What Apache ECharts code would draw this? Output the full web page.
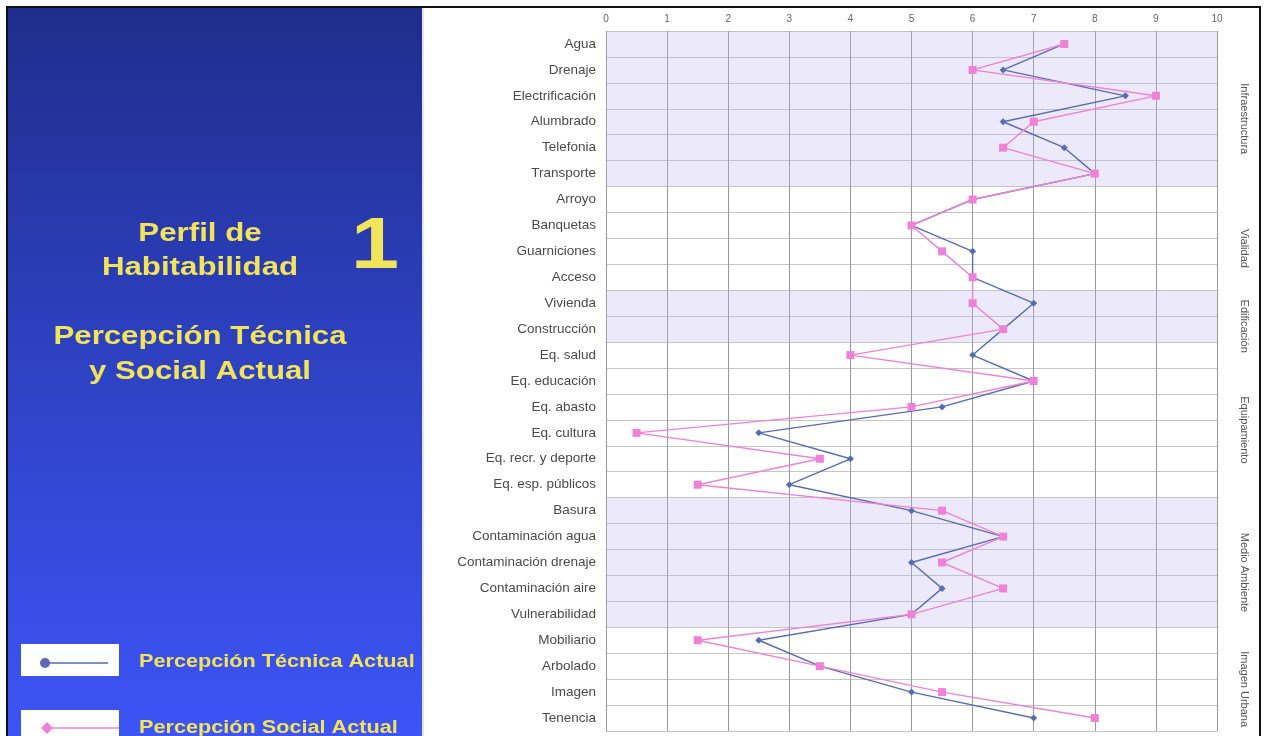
<!DOCTYPE html>
<html>
<head>
<meta charset="utf-8">
<script src="https://cdn.jsdelivr.net/npm/echarts@6/dist/echarts.min.js"></script>
<style>
  html, body { margin: 0; padding: 0; background: #fff; }
  #chart { width: 1267px; height: 736px; }
</style>
</head>
<body>
<div id="chart"></div>
<script>
// rows of the profile, top to bottom
const categories = [
  'Agua', 'Drenaje', 'Electrificación', 'Alumbrado', 'Telefonia', 'Transporte',
  'Arroyo', 'Banquetas', 'Guarniciones', 'Acceso',
  'Vivienda', 'Construcción',
  'Eq. salud', 'Eq. educación', 'Eq. abasto', 'Eq. cultura', 'Eq. recr. y deporte', 'Eq. esp. públicos',
  'Basura', 'Contaminación agua', 'Contaminación drenaje', 'Contaminación aire', 'Vulnerabilidad',
  'Mobiliario', 'Arbolado', 'Imagen', 'Tenencia'
];
const tecnica = [7.5, 6.5, 8.5, 6.5, 7.5, 8, 6, 5, 6, 6, 7, 6.5, 6, 7, 5.5, 2.5, 4, 3, 5, 6.5, 5, 5.5, 5, 2.5, 3.5, 5, 7];
const social  = [7.5, 6, 9, 7, 6.5, 8, 6, 5, 5.5, 6, 6, 6.5, 4, 7, 5, 0.5, 3.5, 1.5, 5.5, 6.5, 5.5, 6.5, 5, 1.5, 3.5, 5.5, 8];

const groupNames  = ['Infraestructura', 'Vialidad', 'Edificación', 'Equipamiento', 'Medio Ambiente', 'Imagen Urbana'];
const groupSizes  = [6, 4, 2, 6, 5, 4];
const groupShaded = [true, false, true, false, true, false];

const seriesNames = ['Percepción Técnica Actual', 'Percepción Social Actual'];
const xTicks = [0, 10, 1]; // min, max, interval

const BLUE = '#5a6bb5';
const PINK = '#ee82d6';
const YELLOW = '#f2e45a';
const FONT = '"Liberation Sans", Arial';

// band value per row (full width where the group is shaded)
const bandData = [];
groupSizes.forEach((n, g) => {
  for (let i = 0; i < n; i++) bandData.push(groupShaded[g] ? xTicks[1] : '-');
});

const chart = echarts.init(document.getElementById('chart'));

// the slide text is stretched sideways, hence the scaleX
function slideText(text, x, y, size, align, sx) {
  return {
    type: 'text', z: 5, x: x, y: y, scaleX: sx,
    style: { text: text, fill: YELLOW, font: 'bold ' + size + 'px ' + FONT, align: align, verticalAlign: 'middle' }
  };
}

const panel = [
  {
    type: 'rect', z: 0,
    shape: { x: 0, y: 0, width: 1267, height: 736 },
    style: { fill: '#fff' }
  },
  {
    type: 'rect', z: 1,
    shape: { x: 8, y: 8, width: 414, height: 728 },
    style: {
      fill: {
        type: 'linear', x: 0, y: 0, x2: 0, y2: 1,
        colorStops: [
          { offset: 0, color: '#1f2d8c' },
          { offset: 0.5, color: '#2e42c4' },
          { offset: 1, color: '#3d54f6' }
        ]
      }
    }
  },
  // frame
  { type: 'rect', z: 50, shape: { x: 6, y: 6, width: 1255, height: 2 }, style: { fill: '#111' } },
  { type: 'rect', z: 50, shape: { x: 6, y: 6, width: 2, height: 730 }, style: { fill: '#111' } },
  { type: 'rect', z: 50, shape: { x: 1259, y: 6, width: 2, height: 730 }, style: { fill: '#111' } },
  { type: 'rect', z: 2, shape: { x: 422, y: 8, width: 2, height: 728 }, style: { fill: '#e4e6ee' } },
  // titles
  slideText('Perfil de', 200, 234, 25, 'center', 1.25),
  slideText('Habitabilidad', 200, 268, 25, 'center', 1.25),
  slideText('1', 375, 248, 72, 'center', 1.2),
  slideText('Percepción Técnica', 200, 337, 26, 'center', 1.2),
  slideText('y Social Actual', 200, 372, 26, 'center', 1.2),
  // legend
  { type: 'rect', z: 5, shape: { x: 21, y: 644, width: 98, height: 32 }, style: { fill: '#fff' } },
  { type: 'line', z: 6, shape: { x1: 45, y1: 663, x2: 108, y2: 663 }, style: { stroke: BLUE, lineWidth: 1.5 } },
  { type: 'circle', z: 7, shape: { cx: 45, cy: 663, r: 5 }, style: { fill: BLUE } },
  slideText(seriesNames[0], 139, 662, 19, 'left', 1.14),
  { type: 'rect', z: 5, shape: { x: 21, y: 710, width: 98, height: 32 }, style: { fill: '#fff' } },
  { type: 'line', z: 6, shape: { x1: 47, y1: 728, x2: 119, y2: 728 }, style: { stroke: PINK, lineWidth: 1.5 } },
  { type: 'polygon', z: 7, shape: { points: [[47, 722], [53, 728], [47, 734], [41, 728]] }, style: { fill: PINK } },
  slideText(seriesNames[1], 139, 728, 19, 'left', 1.14)
];

chart.setOption({
  animation: false,
  grid: { left: 606, right: 50, top: 31, bottom: 5 },
  xAxis: {
    type: 'value', position: 'top',
    min: xTicks[0], max: xTicks[1], interval: xTicks[2],
    axisLine: { show: false }, axisTick: { show: false },
    axisLabel: { fontSize: 10, color: '#666', margin: 7, fontFamily: 'Liberation Sans' },
    splitLine: { lineStyle: { color: '#9a9a9a', width: 1 } }
  },
  yAxis: {
    type: 'category', inverse: true, data: categories,
    axisLine: { show: false }, axisTick: { show: false },
    axisLabel: { fontSize: 13.5, color: '#4a4a4a', margin: 10, fontFamily: 'Liberation Sans' },
    splitLine: { show: true, lineStyle: { color: '#c6c6c6', width: 1 } }
  },
  series: [
    {
      type: 'bar', data: bandData, barWidth: '100%', silent: true, z: 1,
      itemStyle: { color: 'rgba(186,180,236,0.28)' }
    },
    {
      name: seriesNames[0], type: 'line', data: tecnica, z: 3,
      color: BLUE, symbol: 'diamond', symbolSize: 7,
      lineStyle: { width: 1.4, color: BLUE }, itemStyle: { color: BLUE }
    },
    {
      name: seriesNames[1], type: 'line', data: social, z: 4,
      color: PINK, symbol: 'rect', symbolSize: 8,
      lineStyle: { width: 1.4, color: PINK }, itemStyle: { color: PINK }
    }
  ],
  graphic: panel
});

// group labels on the right, placed from the category axis
const groupLabels = [];
let start = 0;
groupNames.forEach((name, g) => {
  const end = start + groupSizes[g] - 1;
  const y0 = chart.convertToPixel({ yAxisIndex: 0 }, categories[start]);
  const y1 = chart.convertToPixel({ yAxisIndex: 0 }, categories[end]);
  groupLabels.push({
    type: 'text', z: 10, x: 1244, y: (y0 + y1) / 2 + 10, rotation: -Math.PI / 2,
    style: { text: name, fill: '#555', font: '11px ' + FONT, align: 'center', verticalAlign: 'middle' }
  });
  start = end + 1;
});

chart.setOption({ graphic: panel.concat(groupLabels) });
</script>
</body>
</html>
